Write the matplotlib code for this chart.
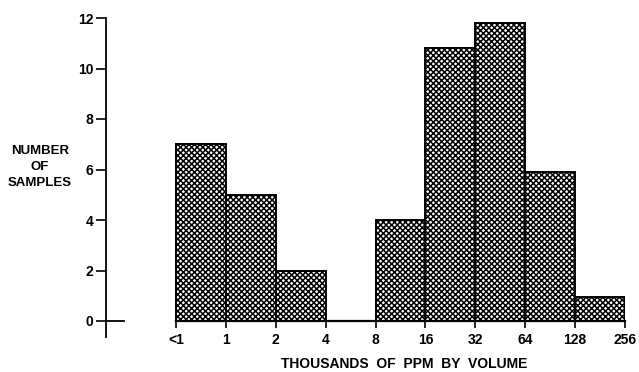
import matplotlib.pyplot as plt

# bin edges (labels) and counts
edge_labels = ['<1', '1', '2', '4', '8', '16', '32', '64', '128', '256']
counts = [7, 5, 2, 0, 4, 10.8, 11.8, 5.9, 0.95]
yticks = [0, 2, 4, 6, 8, 10, 12]

plt.rcParams['font.family'] = ['Liberation Sans', 'DejaVu Sans']
plt.rcParams['font.weight'] = 'bold'
plt.rcParams['hatch.linewidth'] = 1.1

fig = plt.figure(figsize=(6.39, 3.72), dpi=100)
ax = fig.add_axes([106/639, (372-337)/372, (625-106)/639, (337-18)/372])

nb = len(counts)
xs = list(range(nb))
ax.bar(xs, counts, width=1, align='edge', facecolor='white', edgecolor='black',
       hatch='xxxxxx', linewidth=1.4)

ax.set_xlim(-(176-106)/49.9, nb)
ax.set_ylim(-(337-321)/25.25, 12)

for s in ['top', 'right']:
    ax.spines[s].set_visible(False)
ax.spines['left'].set_linewidth(1.3)
ax.spines['bottom'].set_position(('data', 0))
ax.spines['bottom'].set_bounds(0, nb)
ax.spines['bottom'].set_linewidth(1.6)

# small cross at zero on the y axis
ax.plot([0, 0.035], [0, 0], transform=ax.get_yaxis_transform(), color='black',
        lw=1.3, clip_on=False)

ax.set_yticks(yticks)
ax.set_yticklabels([str(v) for v in yticks])
ax.tick_params(axis='y', direction='out', length=7, width=1.2, pad=2, labelsize=10)
ax.set_xticks(range(len(edge_labels)))
ax.set_xticklabels(edge_labels)
ax.tick_params(axis='x', direction='out', length=5, width=1.2, pad=4, labelsize=10)

fig.text(40/639, 1 - 167/372, 'NUMBER\nOF\nSAMPLES', ha='center', va='center',
         fontsize=9.5, fontweight='bold', linespacing=1.45)
fig.text(404/639, 1 - 364/372, 'THOUSANDS  OF  PPM  BY  VOLUME', ha='center', va='center',
         fontsize=10, fontweight='bold')

fig.savefig('out.png', dpi=100)
